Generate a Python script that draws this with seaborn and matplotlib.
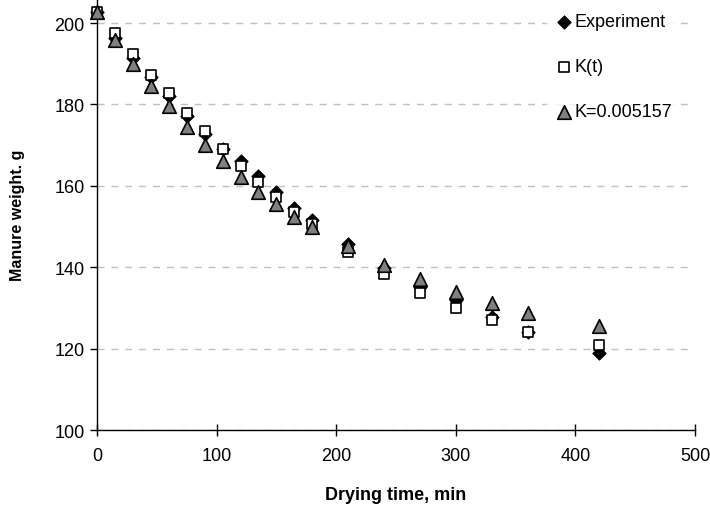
import matplotlib
matplotlib.use("Agg")
import matplotlib.pyplot as plt
import seaborn as sns
import pandas as pd

time_min = [0, 15, 30, 45, 60, 75, 90, 105, 120, 135, 150, 165, 180, 210, 240, 270, 300, 330, 360, 420]
experiment = [202.6, 196.2, 191.4, 186.8, 182.1, 177.2, 172.7, 169.0, 166.0, 162.3, 158.4, 154.5, 151.6, 145.8, 139.8, 135.2, 131.9, 127.8, 124.0, 119.0]
k_t = [202.7, 197.5, 192.4, 187.3, 182.7, 178.0, 173.4, 169.0, 165.0, 160.9, 157.2, 153.5, 150.6, 143.8, 138.4, 133.7, 130.1, 127.1, 124.2, 120.8]
k_const = [202.7, 195.8, 189.9, 184.5, 179.5, 174.4, 170.1, 166.1, 162.1, 158.4, 155.5, 152.4, 149.8, 145.2, 140.6, 137.1, 133.9, 131.2, 128.8, 125.6]
labels = ["Experiment", "K(t)", "K=0.005157"]

sns.set_style("white")
plt.rcParams['font.family'] = ['Liberation Sans', 'DejaVu Sans']
plt.rcParams['text.color'] = 'black'
plt.rcParams['axes.labelcolor'] = 'black'
plt.rcParams['xtick.color'] = 'black'
plt.rcParams['ytick.color'] = 'black'

fig = plt.figure(figsize=(7.10, 5.06), dpi=100)
ax = fig.add_axes([0.1366, 0.148, 0.8424, 0.852])

df_e = pd.DataFrame({"t": time_min, "w": experiment})
df_k = pd.DataFrame({"t": time_min, "w": k_t})
df_c = pd.DataFrame({"t": time_min, "w": k_const})

sns.scatterplot(data=df_e, x="t", y="w", ax=ax, marker="D", s=45, color="black",
                edgecolor="black", linewidth=0.8, label=labels[0], zorder=3, clip_on=False)
sns.scatterplot(data=df_k, x="t", y="w", ax=ax, marker="s", s=55, color="white",
                edgecolor="black", linewidth=1.2, label=labels[1], zorder=4, clip_on=False)
sns.scatterplot(data=df_c, x="t", y="w", ax=ax, marker="^", s=95, color="#808080",
                edgecolor="black", linewidth=1.2, label=labels[2], zorder=5, clip_on=False)

ax.set_xlim(0, 500)
ax.set_ylim(100, 205.9)
ax.set_xticks([0, 100, 200, 300, 400, 500])
ax.set_yticks([100, 120, 140, 160, 180, 200])
ax.yaxis.grid(True, color="#c0c0c0", linestyle=(0, (5, 5)), linewidth=1)
ax.xaxis.grid(False)
ax.set_axisbelow(True)

for s in ["top", "right"]:
    ax.spines[s].set_visible(False)
for s in ["left", "bottom"]:
    ax.spines[s].set_color("black")
    ax.spines[s].set_linewidth(1)

ax.tick_params(axis="y", direction="out", length=5, width=1, color="black", labelsize=13, pad=4, left=True)
ax.tick_params(axis="x", direction="inout", length=8, width=1, color="black", labelsize=13, pad=8, bottom=True)

ax.set_xlabel("Drying time, min", fontsize=13, fontweight="bold", labelpad=16)
ax.set_ylabel("Manure weight. g", fontsize=11.5, fontweight="bold", labelpad=21)

leg = ax.legend(loc="upper left", bbox_to_anchor=(0.738, 1.0), frameon=True, fontsize=13,
                labelspacing=1.55, handletextpad=0.0, borderpad=0.3, handlelength=1.2,
                markerscale=1.0)
leg.get_frame().set_facecolor("white")
leg.get_frame().set_edgecolor("white")

fig.savefig("out.png", dpi=100)
